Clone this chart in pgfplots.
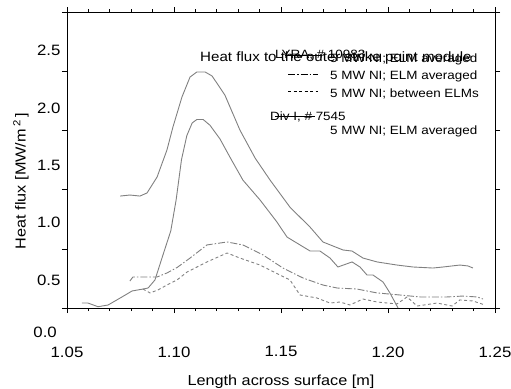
\documentclass[border=0pt]{standalone}
\usepackage{fontspec}
\setmainfont{Liberation Sans}[FakeStretch=1.12]
\usepackage{pgfplots}
\pgfplotsset{compat=1.18}
\definecolor{curve}{RGB}{128,128,128}
\begin{document}
\begin{tikzpicture}
\useasboundingbox (-67pt,-80pt) rectangle (444pt,308pt);
\begin{axis}[
  at={(0pt,0pt)}, anchor=south west,
  scale only axis, width=428pt, height=295.5pt,
  xmin=1.05, xmax=1.25, ymin=0.2578, ymax=2.832,
  clip=false,
  axis line style={line width=0.8pt},
  tick align=outside,
  xtick={1.05,1.10,1.15,1.20,1.25},
  xticklabels={1.05,1.10,1.15,1.20,1.25},
  minor x tick num=4,
  ytick={0.2578,0.7726,1.2875,1.8023,2.3172,2.832},
  yticklabels={},
  minor y tick num=4,
  extra y ticks={0.5,1.0,1.5,2.0,2.5},
  extra y tick labels={0.5,1.0,1.5,2.0,2.5},
  extra y tick style={major tick length=0pt, grid=none},
  major tick length=5pt, minor tick length=3pt,
  every tick/.style={black, line width=0.8pt},
  ticklabel style={font=\fontsize{15}{18}\selectfont},
  xticklabel style={yshift=-30pt},
  yticklabel style={xshift=-3pt},
  xlabel={Length across surface [m]},
  ylabel={Heat flux [MW/m\,\textsuperscript{2}\,]},
  xlabel style={font=\fontsize{14.5}{17}\selectfont, at={(axis description cs:0.5,-0.262)}, anchor=base},
  ylabel style={font=\fontsize{14.5}{17}\selectfont, at={(axis description cs:-0.1075,0.43)}, anchor=center},
]
% LYRA ELM averaged (upper solid)
\addplot[curve, line width=0.9pt] coordinates {
(1.0748,1.233)(1.0794,1.242)(1.0841,1.233)(1.0874,1.260)(1.0921,1.399)(1.0967,1.634)
(1.0995,1.834)(1.1037,2.095)(1.1075,2.270)(1.1107,2.314)(1.1145,2.314)(1.1178,2.279)
(1.1238,2.112)(1.1308,1.808)(1.1379,1.564)(1.1449,1.372)(1.1542,1.136)(1.1636,0.962)
(1.1696,0.833)(1.1790,0.763)(1.1832,0.754)(1.1883,0.693)(1.1949,0.659)(1.2042,0.632)
(1.2117,0.615)(1.2210,0.606)(1.2257,0.615)(1.2336,0.632)(1.2374,0.624)(1.2397,0.606)};
% Div I ELM averaged (lower solid)
\addplot[curve, line width=0.9pt] coordinates {
(1.0570,0.301)(1.0598,0.301)(1.0645,0.269)(1.0692,0.284)(1.0757,0.354)(1.0804,0.406)
(1.0855,0.423)(1.0879,0.432)(1.0911,0.502)(1.0945,0.700)(1.0985,0.930)(1.1010,1.200)
(1.1035,1.550)(1.1060,1.760)(1.1085,1.870)(1.1107,1.900)(1.1136,1.900)(1.1168,1.850)
(1.1215,1.730)(1.1262,1.570)(1.1322,1.372)(1.1402,1.199)(1.1481,1.007)(1.1528,0.876)
(1.1589,0.807)(1.1636,0.754)(1.1682,0.754)(1.1729,0.693)(1.1766,0.615)(1.1832,0.659)
(1.1869,0.615)(1.1902,0.545)(1.1930,0.545)(1.1977,0.484)(1.2009,0.389)(1.2047,0.258)};
% LYRA dash-dot
\addplot[curve, line width=0.9pt, dash pattern=on 7pt off 2pt on 1.5pt off 2pt] coordinates {
(1.0794,0.493)(1.0808,0.528)(1.0855,0.528)(1.0921,0.528)(1.0967,0.563)(1.1014,0.610)
(1.1075,0.693)(1.1154,0.807)(1.1248,0.833)(1.1322,0.807)(1.1416,0.720)(1.1509,0.606)
(1.1603,0.519)(1.1696,0.458)(1.1762,0.432)(1.1855,0.423)(1.1949,0.389)(1.2056,0.371)
(1.2150,0.354)(1.2276,0.354)(1.2350,0.362)(1.2416,0.354)(1.2444,0.336)};
% LYRA between ELMs dashed
\addplot[curve, line width=0.9pt, dash pattern=on 3pt off 2.5pt] coordinates {
(1.0855,0.423)(1.0888,0.389)(1.0925,0.415)(1.0967,0.458)(1.1014,0.502)(1.1061,0.571)
(1.1154,0.659)(1.1248,0.737)(1.1308,0.693)(1.1402,0.632)(1.1495,0.545)(1.1542,0.502)
(1.1589,0.371)(1.1668,0.345)(1.1729,0.301)(1.1776,0.310)(1.1822,0.284)(1.1883,0.336)
(1.1949,0.310)(1.2042,0.293)(1.2089,0.354)(1.2136,0.275)(1.2229,0.301)(1.2299,0.275)
(1.2336,0.328)(1.2397,0.319)(1.2453,0.284)};
% zero label below axis
\node[anchor=east, inner sep=0pt, font=\fontsize{15}{18}\selectfont] at ([xshift=-10pt]axis description cs:0,-0.082) {0.0};
% legend-like texts
\node[anchor=base west, inner sep=0pt, font=\fontsize{13.5}{16}\selectfont] at (axis description cs:0.3107,0.8325) {Heat flux to the outer strike point module};
\node[anchor=base west, inner sep=0pt, font=\fontsize{12}{14}\selectfont] at (axis description cs:0.4860,0.8450) {LYRA, \# 10983};
\node[anchor=base west, inner sep=0pt, font=\fontsize{12}{14}\selectfont] at (axis description cs:0.6145,0.8291) {5 MW NI; ELM averaged};
\node[anchor=base west, inner sep=0pt, font=\fontsize{12}{14}\selectfont] at (axis description cs:0.6145,0.7716) {5 MW NI; ELM averaged};
\node[anchor=base west, inner sep=0pt, font=\fontsize{12}{14}\selectfont] at (axis description cs:0.6145,0.7140) {5 MW NI; between ELMs};
\node[anchor=base west, inner sep=0pt, font=\fontsize{12}{14}\selectfont] at (axis description cs:0.4743,0.6362) {Div I, \# 7545};
\node[anchor=base west, inner sep=0pt, font=\fontsize{12}{14}\selectfont] at (axis description cs:0.6145,0.5888) {5 MW NI; ELM averaged};
\draw[black, line width=0.7pt] (axis description cs:0.5093,0.8562) -- (axis description cs:0.5958,0.8562);
\draw[black, line width=0.7pt, dash pattern=on 7pt off 2pt on 1.5pt off 2pt] (axis description cs:0.5164,0.7902) -- (axis description cs:0.5864,0.7902);
\draw[black, line width=0.7pt, dash pattern=on 3pt off 2.5pt] (axis description cs:0.5164,0.7320) -- (axis description cs:0.5864,0.7320);
\draw[black, line width=0.7pt] (axis description cs:0.4860,0.6497) -- (axis description cs:0.5794,0.6497);
\end{axis}
\end{tikzpicture}
\end{document}
